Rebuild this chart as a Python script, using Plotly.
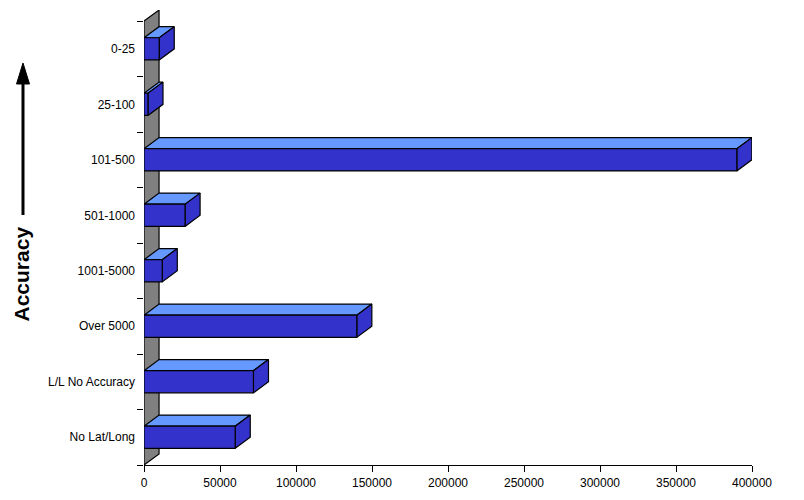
import plotly.graph_objects as go

categories = ["No Lat/Long", "L/L No Accuracy", "Over 5000", "1001-5000",
              "501-1000", "101-500", "25-100", "0-25"]
values = [60000, 72000, 140000, 12000, 27000, 390000, 2600, 10000]
x_ticks = [0, 50000, 100000, 150000, 200000, 250000, 300000, 350000, 400000]

# the page has an 8px body margin, so the figure sits 8px in
PAGE = 8
W, H = 804 - PAGE, 500 - PAGE
LEFT, RIGHT, TOP, BOTTOM = 144, 752, 10, 465
BAR = 0.4       # bar thickness in category units
DX = 9900       # 3d depth, in x units
DY = 0.2        # 3d depth, in category units
BLUE = "#3333CC"
LIGHT = "#6699FF"
GREY = "#808080"


# pixel position to paper coords, for the arrow
def px(x):
    return (x - LEFT) / (RIGHT - LEFT)


def py(y):
    return (BOTTOM - y) / (BOTTOM - TOP)


def poly(xs, ys, color):
    return go.Scatter(x=xs, y=ys, mode="lines", fill="toself", fillcolor=color,
                      line=dict(color="black", width=1.2), cliponaxis=False,
                      hoverinfo="skip", showlegend=False)


fig = go.Figure()

n = len(categories)
y_range = [-0.5, n - 0.5 + DY]

# back wall
fig.add_trace(poly([0, DX, DX, 0, 0],
                   [-0.5, -0.5 + DY, n - 0.5 + DY, n - 0.5, -0.5], GREY))

# top and side of each bar, the front goes on the category axis over them
for i, v in enumerate(values):
    lo, hi = i - BAR / 2, i + BAR / 2
    fig.add_trace(poly([0, DX, v + DX, v, 0], [hi, hi + DY, hi + DY, hi, hi], LIGHT))
    fig.add_trace(poly([v, v + DX, v + DX, v, v], [lo, lo + DY, hi + DY, hi, lo], BLUE))

fig.add_trace(go.Bar(x=values, y=categories, orientation="h", yaxis="y2", width=BAR,
                     marker=dict(color=BLUE, line=dict(color="black", width=1.2)),
                     hoverinfo="skip", showlegend=False))

fig.update_layout(
    width=W, height=H,
    margin=dict(l=LEFT - PAGE, r=W + PAGE - RIGHT, t=TOP - PAGE, b=H + PAGE - BOTTOM),
    paper_bgcolor="white", plot_bgcolor="white",
    font=dict(family="Liberation Sans", size=12, color="black"),
    xaxis=dict(range=[0, 400000], tickvals=x_ticks, tickformat="d", ticks="outside",
               ticklen=6, tickcolor="black", showgrid=False, zeroline=False,
               showline=True, linecolor="black", linewidth=1, ticklabelstandoff=1),
    yaxis=dict(range=y_range, visible=False),
    yaxis2=dict(overlaying="y", side="left", type="category", categoryorder="array",
                categoryarray=categories, range=y_range, tickson="boundaries",
                ticks="outside", ticklen=6, tickcolor="black", showgrid=False,
                showline=False, ticklabelstandoff=8),
    shapes=[
        dict(type="line", xref="paper", yref="paper", x0=px(23), x1=px(23),
             y0=py(215), y1=py(84), line=dict(color="black", width=3)),
        dict(type="path", xref="paper", yref="paper", fillcolor="black",
             line=dict(color="black", width=1),
             path=f"M {px(16.5)} {py(84)} L {px(29.5)} {py(84)} L {px(23)} {py(63)} Z"),
    ],
    annotations=[
        dict(text="<b>Accuracy</b>", xref="paper", yref="paper", x=px(21.5), y=py(274),
             showarrow=False, textangle=-90, xanchor="center", yanchor="middle",
             font=dict(family="Liberation Sans", size=21, color="black")),
    ],
)

fig.write_html("out.html")
